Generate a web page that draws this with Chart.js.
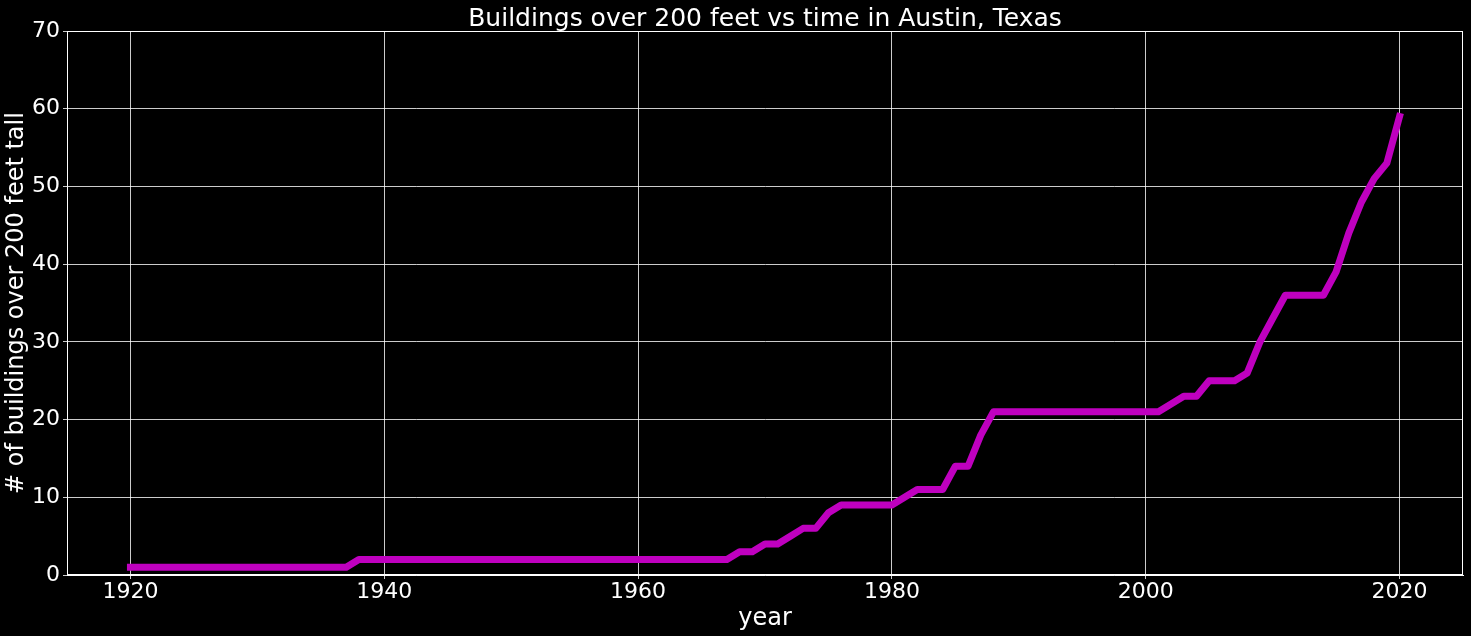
<!DOCTYPE html>
<html>
<head>
<meta charset="utf-8">
<script src="https://cdn.jsdelivr.net/npm/chart.js@4"></script>
<style>
  html, body { margin: 0; padding: 0; background: #000; }
  #wrap { width: 1471px; height: 636px; }
</style>
</head>
<body>
<div id="wrap"><canvas id="towerChart"></canvas></div>
<script>
// Yearly count of Austin buildings over 200 ft
const years = [];
for (let y = 1920; y <= 2020; y++) years.push(y);

const buildingCounts = [
  // 1920-1929
  1, 1, 1, 1, 1, 1, 1, 1, 1, 1,
  // 1930-1939
  1, 1, 1, 1, 1, 1, 1, 1, 2, 2,
  // 1940-1949
  2, 2, 2, 2, 2, 2, 2, 2, 2, 2,
  // 1950-1959
  2, 2, 2, 2, 2, 2, 2, 2, 2, 2,
  // 1960-1969
  2, 2, 2, 2, 2, 2, 2, 2, 3, 3,
  // 1970-1979
  4, 4, 5, 6, 6, 8, 9, 9, 9, 9,
  // 1980-1989
  9, 10, 11, 11, 11, 14, 14, 18, 21, 21,
  // 1990-1999
  21, 21, 21, 21, 21, 21, 21, 21, 21, 21,
  // 2000-2009
  21, 21, 22, 23, 23, 25, 25, 25, 26, 30,
  // 2010-2020
  33, 36, 36, 36, 36, 39, 44, 48, 51, 53, 59
];

const xTicks = [1920, 1940, 1960, 1980, 2000, 2020];
const yTicks = [0, 10, 20, 30, 40, 50, 60, 70];

const points = years.map((yr, i) => ({ x: yr, y: buildingCounts[i] }));

const fontFamily = '"DejaVu Sans", sans-serif';
const gridColor = 'rgba(255, 255, 255, 0.8)';

// draw the full box around the plot, like matplotlib spines
const framePlugin = {
  id: 'frame',
  afterDatasetsDraw(chart) {
    const { ctx, chartArea } = chart;
    ctx.save();
    ctx.strokeStyle = '#ffffff';
    ctx.lineWidth = 1;
    ctx.strokeRect(chartArea.left + 0.5, chartArea.top + 0.5,
      chartArea.right - chartArea.left - 1, chartArea.bottom - chartArea.top - 1);
    ctx.restore();
  }
};

const ctx = document.getElementById('towerChart').getContext('2d');
new Chart(ctx, {
  type: 'line',
  data: {
    datasets: [{
      label: 'Buildings over 200 ft',
      data: points,
      borderColor: '#bf00bf',
      borderWidth: 7,
      borderCapStyle: 'square',
      borderJoinStyle: 'round',
      pointRadius: 0,
      tension: 0,
      fill: false
    }]
  },
  options: {
    responsive: true,
    maintainAspectRatio: false,
    animation: false,
    layout: { padding: { left: 0, right: 8, top: 0, bottom: 0 } },
    plugins: {
      legend: { display: false },
      tooltip: { enabled: false },
      title: {
        display: true,
        text: 'Buildings over 200 feet vs time in Austin, Texas',
        color: '#ffffff',
        fullSize: false,
        font: { family: fontFamily, size: 25, weight: 'normal' },
        padding: { top: 4, bottom: -3 }
      }
    },
    scales: {
      x: {
        type: 'linear',
        min: 1915,
        max: 2025,
        afterBuildTicks: (scale) => { scale.ticks = xTicks.map(v => ({ value: v })); },
        afterFit: (scale) => { scale.height = 61; },
        grid: { color: gridColor, lineWidth: 1, tickLength: 4 },
        border: { color: '#ffffff', width: 1 },
        ticks: {
          color: '#ffffff',
          padding: 0,
          maxRotation: 0,
          font: { family: fontFamily, size: 22 },
          callback: (v) => String(v)
        },
        title: {
          display: true,
          text: 'year',
          color: '#ffffff',
          font: { family: fontFamily, size: 24 },
          padding: { top: 0, bottom: 3 }
        }
      },
      y: {
        type: 'linear',
        min: 0,
        max: 70,
        afterBuildTicks: (scale) => { scale.ticks = yTicks.map(v => ({ value: v })); },
        afterFit: (scale) => { scale.width = 67; },
        grid: { color: gridColor, lineWidth: 1, tickLength: 4 },
        border: { color: '#ffffff', width: 1 },
        ticks: {
          color: '#ffffff',
          padding: 3,
          font: { family: fontFamily, size: 22 }
        },
        title: {
          display: true,
          text: '# of buildings over 200 feet tall',
          color: '#ffffff',
          font: { family: fontFamily, size: 24 },
          padding: { top: 2, bottom: 0 }
        }
      }
    }
  },
  plugins: [framePlugin]
});
</script>
</body>
</html>
